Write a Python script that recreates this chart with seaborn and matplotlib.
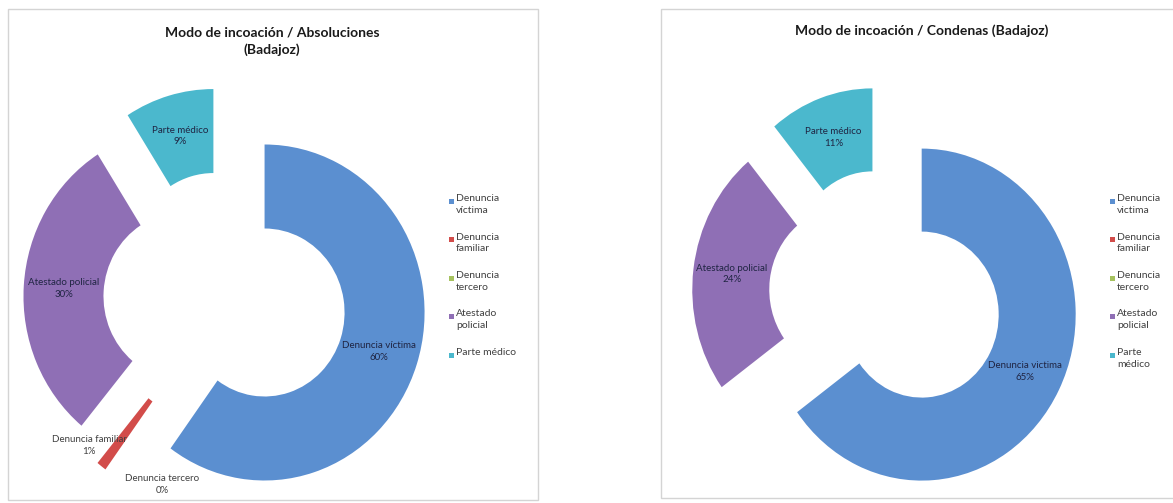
import matplotlib.pyplot as plt
import numpy as np
import seaborn as sns
from matplotlib.patches import Rectangle

# Datos
categorias_abs = ['Denuncia víctima', 'Denuncia familiar', 'Denuncia tercero',
                  'Atestado policial', 'Parte médico']
categorias_cond = ['Denuncia victima', 'Denuncia familiar', 'Denuncia tercero',
                   'Atestado policial', 'Parte médico']
absoluciones = [60, 1, 0, 30, 9]
condenas = [65, 0, 0, 24, 11]

leyenda_abs = ['Denuncia\nvíctima', 'Denuncia\nfamiliar', 'Denuncia\ntercero',
               'Atestado\npolicial', 'Parte médico']
leyenda_cond = ['Denuncia\nvictima', 'Denuncia\nfamiliar', 'Denuncia\ntercero',
                'Atestado\npolicial', 'Parte\nmédico']

titulo_abs = 'Modo de incoación / Absoluciones\n(Badajoz)'
titulo_cond = 'Modo de incoación / Condenas (Badajoz)'

colores = ['#5b8fd0', '#d24c4a', '#a6c25f', '#8f6fb5', '#4bb8cd']

sns.set_theme(style='white')
plt.rcParams['font.family'] = ['Lato', 'DejaVu Sans']

W, H = 1173, 503
fig = plt.figure(figsize=(W / 100, H / 100), dpi=100)
fig.patch.set_facecolor('white')

# capa de fondo en pixeles: marcos, titulos y leyendas
bg = fig.add_axes([0, 0, 1, 1], zorder=0)
bg.set_xlim(0, W)
bg.set_ylim(H, 0)
bg.axis('off')

bg.add_patch(Rectangle((8, 9), 530, 491, fill=False, edgecolor='#d4d4d4', lw=1))
bg.add_patch(Rectangle((661, 9), 540, 489, fill=False, edgecolor='#d4d4d4', lw=1))

bg.text(272, 41, titulo_abs, ha='center', va='center', fontsize=10,
        fontweight='bold', color='#1a1a1a', linespacing=1.45)
bg.text(922, 31, titulo_cond, ha='center', va='center', fontsize=10,
        fontweight='bold', color='#1a1a1a')


def leyenda(x, y0, textos):
    y = y0
    for txt, col in zip(textos, colores):
        bg.add_patch(Rectangle((x - 2.5, y - 2.5), 5, 5, color=col, lw=0))
        bg.text(x + 5, y - 7, txt, ha='left', va='top', fontsize=7.5,
                color='#404040', linespacing=1.4)
        y += 38.5


leyenda(451, 201, leyenda_abs)
leyenda(1112, 201, leyenda_cond)


def donut(valores, nombres, cx, cy, rx, ry, fuera):
    lim = 1.45
    ax = fig.add_axes([(cx - lim * rx) / W, (H - cy - lim * ry) / H,
                       2 * lim * rx / W, 2 * lim * ry / H], zorder=2)
    wedges, _ = ax.pie(valores, explode=[0.26] * len(valores), startangle=90,
                       counterclock=False, colors=colores,
                       wedgeprops=dict(width=0.5, edgecolor='none'))
    ax.set_xlim(-lim, lim)
    ax.set_ylim(-lim, lim)
    ax.set_aspect('auto')
    ax.axis('off')
    for i, (w, nombre, v) in enumerate(zip(wedges, nombres, valores)):
        etiqueta = f'{nombre}\n{v}%'
        wx, wy = w.center
        if i in fuera:
            r, ang = fuera[i]
            color = '#404040'
        elif v > 0:
            r = 0.75
            ang = (w.theta1 + w.theta2) / 2
            color = '#1f2442'
        else:
            continue
        a = np.deg2rad(ang)
        ax.text(wx + r * np.cos(a), wy + r * np.sin(a), etiqueta, ha='center',
                va='center', fontsize=7, color=color, linespacing=1.4)
    return ax


donut(absoluciones, categorias_abs, 225, 299, 160, 168,
      {1: (0.96, 224), 2: (0.93, 256)})
donut(condenas, categorias_cond, 886, 295, 154, 166, {})

fig.savefig('out.png', dpi=100)
